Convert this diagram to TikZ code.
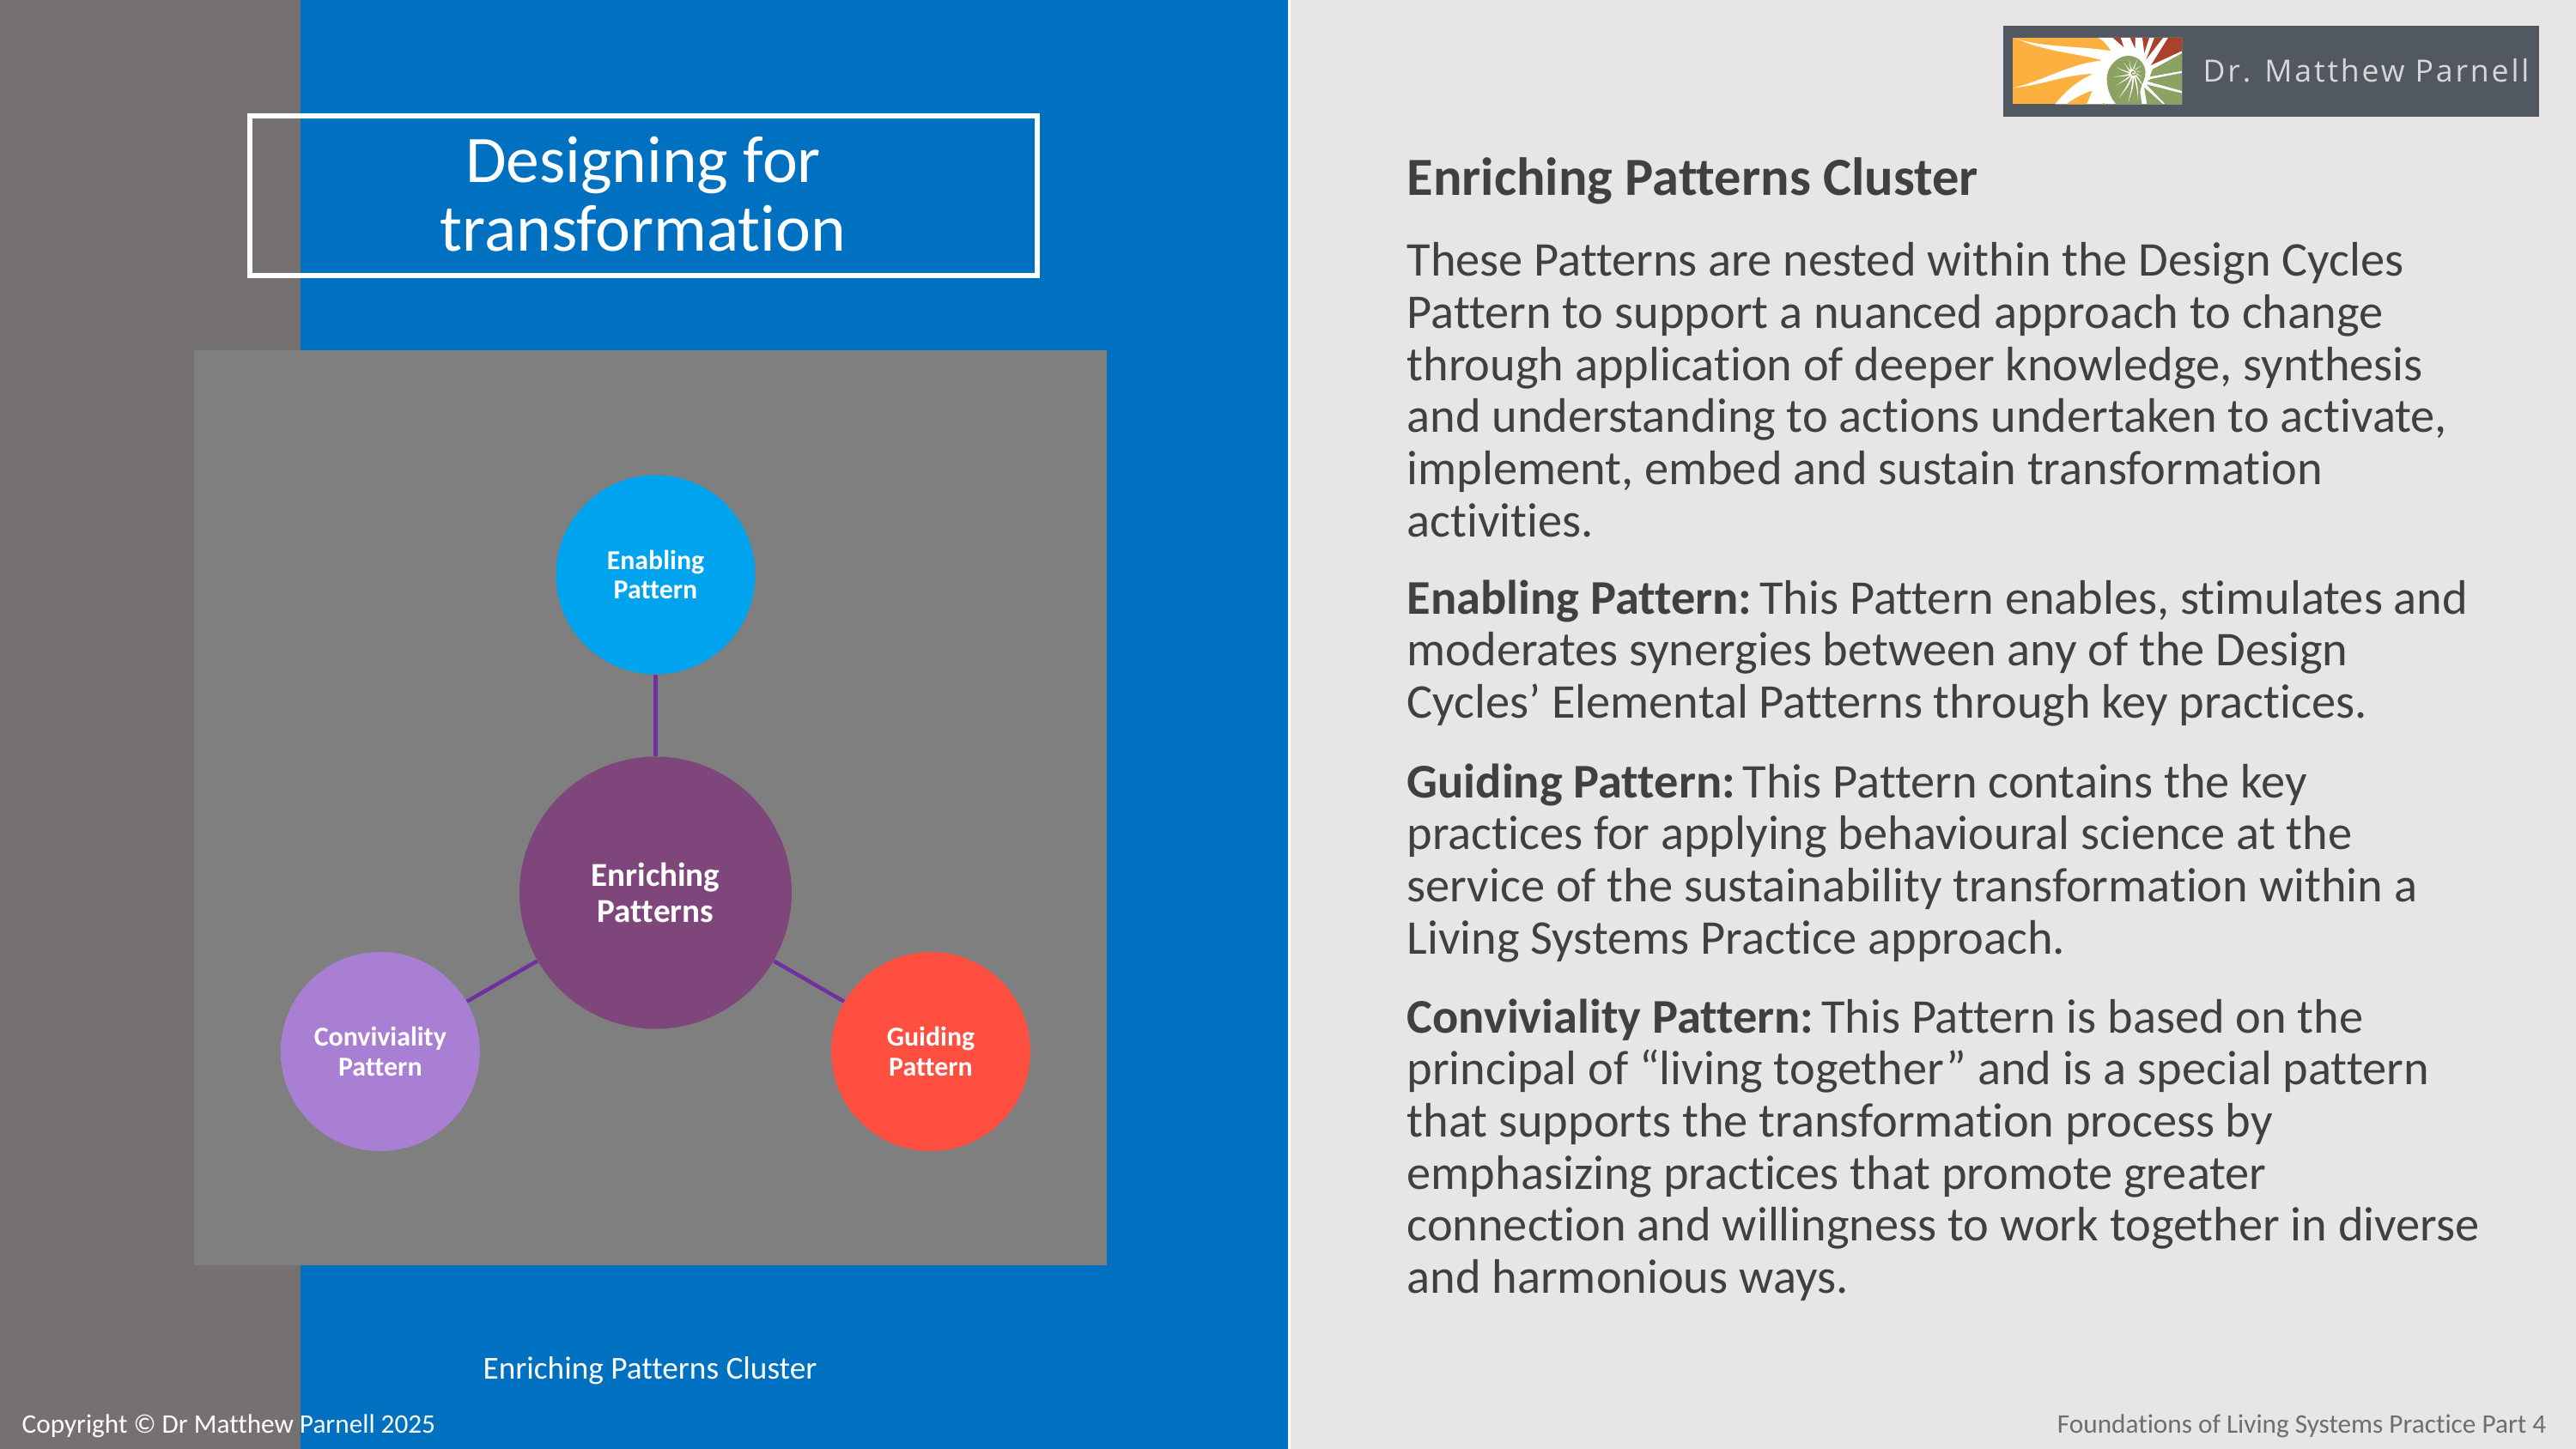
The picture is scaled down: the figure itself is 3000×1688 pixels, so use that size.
\documentclass[tikz,border=0pt]{standalone}
\usepackage{fontspec}
\setmainfont{Carlito}[Ligatures=NoCommon]
\newfontfamily\logofont[LetterSpace=8]{Open Sans}
\definecolor{slidegray}{HTML}{767171}
\definecolor{slideblue}{HTML}{0070C0}
\definecolor{slidebg}{HTML}{E7E5E6}
\definecolor{panelgray}{HTML}{7F7F7F}
\definecolor{hubpurple}{HTML}{7F467C}
\definecolor{linkpurple}{HTML}{7030A0}
\definecolor{enablecol}{HTML}{00A4EE}
\definecolor{convivcol}{HTML}{A97FD3}
\definecolor{guidecol}{HTML}{FF4F40}
\definecolor{logobar}{HTML}{515861}
\definecolor{logotext}{HTML}{D9D6D7}
\definecolor{bodytext}{HTML}{404040}
\definecolor{footgray}{HTML}{6E6E6E}
\definecolor{logoorange}{HTML}{FBB040}
\definecolor{logored}{HTML}{A9412B}
\definecolor{logogreen}{HTML}{8CA262}
\newlength{\pxu}\setlength{\pxu}{0.32pt}
\newcommand{\boldlead}[1]{\textbf{#1}\kern-1.2pt\ }
\tikzset{
  satellite/.style={circle,minimum size=232\pxu,inner sep=0pt,align=center,text=white,font=\fontsize{10.2}{11}\selectfont\bfseries},
  hub/.style={circle,fill=hubpurple,minimum size=317\pxu,inner sep=0pt,align=center,text=white,font=\fontsize{12.5}{13.5}\selectfont\bfseries},
  link/.style={draw=linkpurple,line width=4.5\pxu},
  bodypara/.style={anchor=north west,inner sep=0pt,align=left,text=bodytext,font=\fontsize{18.05}{19.42}\selectfont},
  logoray/.style={fill=white},
}
\begin{document}
\begin{tikzpicture}[x=0.32pt,y=-0.32pt]
\useasboundingbox (0,0) rectangle (3000,1688);
\fill[slidebg] (0,0) rectangle (3000,1688);
\fill[white] (1500,0) rectangle (1503,1688);
\fill[slidegray] (0,0) rectangle (350,1688);
\fill[slideblue] (350,0) rectangle (1500,1688);
\node[draw=white,line width=6\pxu,minimum width=917\pxu,minimum height=186\pxu,inner sep=0pt,
  label={[yshift=0.7pt,align=center,text=white,font=\fontsize{24.8}{25.6}\selectfont]center:Designing for\\transformation}] (title) at (749,228) {};
\fill[panelgray] (226,408) rectangle (1289,1474);
\node[hub] (hubn) at (763.5,1040) {Enriching\\Patterns};
\node[satellite,fill=enablecol] (enable) at (763.5,669.5) {Enabling\\Pattern};
\node[satellite,fill=convivcol] (conviv) at (442.8,1225) {Conviviality\\Pattern};
\node[satellite,fill=guidecol] (guide) at (1084,1225) {Guiding\\Pattern};
\draw[link] (hubn) -- (enable);
\draw[link] (hubn) -- (conviv);
\draw[link] (hubn) -- (guide);
\node[text=white,font=\fontsize{11.93}{13}\selectfont] (caption) at (757,1597) {Enriching Patterns Cluster};
\node[anchor=base west,inner sep=0pt,text=white,font=\fontsize{10}{12}\selectfont] (copyright) at (25,1669) {Copyright © Dr Matthew Parnell 2025};
\node[anchor=base east,inner sep=0pt,text=footgray,font=\fontsize{10}{12}\selectfont] (footer) at (2966,1669) {Foundations of Living Systems Practice Part 4};
% logo
\fill[logobar] (2333,30) rectangle (2957,136);
\begin{scope}[shift={(2335,50)},x=0.10667pt,y=-0.10667pt]
\fill[logoorange] (28,-18) rectangle (618,214);
\fill[white] (42,-15) .. controls (120,15) and (260,10) .. (370,28) .. controls (358,8) and (345,-8) .. (326,-18) -- (618,-18) -- (618,214) -- (175,214) .. controls (210,170) and (255,130) .. (310,108) .. controls (220,108) and (120,150) .. (28,157) .. controls (130,135) and (230,70) .. (340,62) .. controls (280,40) and (130,30) .. cycle;
\fill[logoorange] (215,214) .. controls (240,195) and (270,178) .. (305,167) -- (285,214) -- cycle;
\fill[logoorange] (340,214) -- (345,208) -- (349,214) -- cycle;
\fill[logored] (377,-18) -- (415,15) -- (404,-18) -- cycle;
\fill[logored] (437,-18) -- (455,20) -- (455,-18) -- cycle;
\fill[logored] (480,-18) -- (487,35) -- (504,-18) -- cycle;
\fill[logored] (522,-18) -- (493,58) -- (552,-18) -- cycle;
\fill[logored] (570,-18) -- (510,78) -- (618,28) -- (618,-18) -- cycle;
\fill[logogreen] (618,36) -- (516,92) -- (506,118) -- (618,98) -- cycle;
\fill[logogreen] (618,105) -- (510,126) -- (497,134) -- (618,168) -- cycle;
\fill[logogreen] (618,176) -- (494,145) -- (560,214) -- (618,214) -- cycle;
\fill[logogreen] (552,214) -- (486,155) -- (496,214) -- cycle;
\fill[logogreen] (430,45) .. controls (475,45) and (495,85) .. (490,112) .. controls (486,135) and (475,150) .. (472,170) -- (478,214) -- (388,214) .. controls (358,180) and (350,130) .. (360,100) .. controls (370,70) and (400,45) .. (430,45) -- cycle;
\foreach \ang/\len in {-85/50,-55/40,-25/34,-120/48,-145/48,-175/62,155/70,130/72,105/100,85/104,65/95,40/66,10/36}{
  \fill[logoray,shift={(447,105)}] (\ang-12:12) .. controls ({\ang+4}:{0.5*\len}) .. ({\ang+14}:\len) .. controls ({\ang+10}:{0.5*\len}) .. (\ang+12:12) -- cycle;
}
\fill[logoray] (447,105) circle (15);
\draw[logogreen,line width=0.45pt] (452,104) .. controls (452,99) and (444,99) .. (442,104) .. controls (440,112) and (452,116) .. (458,108) .. controls (462,100) and (456,92) .. (448,91);
\end{scope}
\node[anchor=base west,inner sep=0pt,text=logotext,font=\logofont\fontsize{11.4}{14}\selectfont] (logoname) at (2565,96) {Dr. Matthew Parnell};
% right text
\node[anchor=base west,inner sep=0pt,text=bodytext,font=\fontsize{20}{24}\selectfont\bfseries] (head) at (1638,228) {Enriching Patterns Cluster};
\node[bodypara] (p1) at (1638,282) {These Patterns are nested within the Design Cycles\\Pattern to support a nuanced approach to change\\through application of deeper knowledge, synthesis\\and understanding to actions undertaken to activate,\\implement, embed and sustain transformation\\activities.};
\node[bodypara] (p2) at (1638,675) {\boldlead{Enabling Pattern:}This Pattern enables, stimulates and\\moderates synergies between any of the Design\\Cycles’ Elemental Patterns through key practices.};
\node[bodypara] (p3) at (1638,889) {\boldlead{Guiding Pattern:}This Pattern contains the key\\practices for applying behavioural science at the\\service of the sustainability transformation within a\\Living Systems Practice approach.};
\node[bodypara] (p4) at (1638,1163) {\boldlead{Conviviality Pattern:}This Pattern is based on the\\principal of “living together” and is a special pattern\\that supports the transformation process by\\emphasizing practices that promote greater\\connection and willingness to work together in diverse\\and harmonious ways.};
\end{tikzpicture}
\end{document}
